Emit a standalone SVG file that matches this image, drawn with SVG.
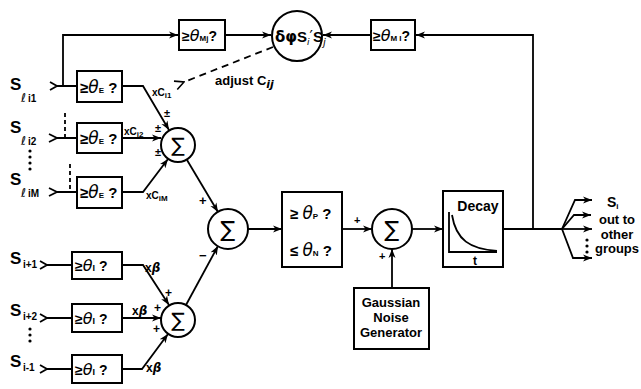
<svg xmlns="http://www.w3.org/2000/svg" width="641" height="389" viewBox="0 0 641 389">
<defs>
<marker id="arr" markerWidth="10" markerHeight="8" refX="9" refY="4" orient="auto" markerUnits="userSpaceOnUse">
<path d="M0,0.5 L9,4 L0,7.5 L2.5,4 z" fill="#000"/>
</marker>
<marker id="oarr" markerWidth="12" markerHeight="10" refX="1" refY="5" orient="auto" markerUnits="userSpaceOnUse">
<path d="M10,0.5 L1,5 L10,9.5" fill="none" stroke="#000" stroke-width="1.6"/>
</marker>
</defs>
<style>
.ln{fill:none;stroke:#000;stroke-width:1.8}
.bx{fill:#fff;stroke:#000;stroke-width:2}
.t{font-family:"Liberation Sans",Arial,sans-serif;font-weight:bold;fill:#000}
.g{font-family:"DejaVu Sans","Liberation Sans",sans-serif;fill:#000}
.th{font-family:"DejaVu Sans","Liberation Sans",sans-serif;font-style:italic;font-weight:normal}
.d{fill:#000}
</style>
<rect width="641" height="389" fill="#fff"/>

<g id="connectors">
<path class="ln" d="M50,82 L57,86 L50,90 M57,86 H77"/>
<path class="ln" d="M63,86 V35 H178" marker-end="url(#arr)"/>
<path class="ln" d="M122,86 H143 L169,130" marker-end="url(#arr)"/>
<path class="ln" d="M49,134 L57,138 L49,142 M57,138 H77"/>
<path class="ln" d="M122,138 H161" marker-end="url(#arr)"/>
<path class="ln" d="M49,188 L57,192 L49,196 M57,192 H77"/>
<path class="ln" d="M122,192 H143 L168,159" marker-end="url(#arr)"/>
<path class="ln" d="M65,113 V138" stroke-dasharray="4,3"/>
<path class="ln" d="M70,164 V192" stroke-dasharray="4,3"/>
<path class="ln" d="M40,261 L47,265 L40,269 M47,265 H72"/>
<path class="ln" d="M122,265 H143 L169,305" marker-end="url(#arr)"/>
<path class="ln" d="M40,314 L47,318 L40,322 M47,318 H72"/>
<path class="ln" d="M122,318 H161" marker-end="url(#arr)"/>
<path class="ln" d="M40,365 L47,369 L40,373 M47,369 H72"/>
<path class="ln" d="M122,369 H142 L168,334" marker-end="url(#arr)"/>
<path class="ln" d="M187,160 L218,212" marker-end="url(#arr)"/>
<path class="ln" d="M186,305 L218,246" marker-end="url(#arr)"/>
<path class="ln" d="M248,229 H282" marker-end="url(#arr)"/>
<path class="ln" d="M342,229 H372" marker-end="url(#arr)"/>
<path class="ln" d="M392,288 V249" marker-end="url(#arr)"/>
<path class="ln" d="M412,229 H443" marker-end="url(#arr)"/>
<path class="ln" d="M503,229 H562"/>
<path class="ln" d="M533,229 V35 H416" marker-end="url(#arr)"/>
<path class="ln" d="M371,35 H323" marker-end="url(#arr)"/>
<path class="ln" d="M225,35 H271" marker-end="url(#arr)"/>
<path class="ln" d="M273,47 L184,82" stroke-dasharray="7,5" marker-end="url(#oarr)"/>
<path class="ln" d="M562,229 L575,200 H592" marker-end="url(#arr)"/>
<path class="ln" d="M562,229 L574,215 H591" marker-end="url(#arr)"/>
<path class="ln" d="M562,229 H592" marker-end="url(#arr)"/>
<path class="ln" d="M562,229 L573,258 H592" marker-end="url(#arr)"/>
<circle class="d" cx="587" cy="240" r="1.6"/>
<circle class="d" cx="587" cy="246" r="1.6"/>
<circle class="d" cx="587" cy="252" r="1.6"/>
</g>

<g id="labels">
<text class="t" x="10" y="90" font-size="17">S</text>
<text class="g" x="21" y="102" font-size="12" font-style="italic">ℓ</text>
<text class="t" x="28" y="102" font-size="10">i1</text>
<text class="t" x="10" y="133" font-size="17">S</text>
<text class="g" x="21" y="145" font-size="12" font-style="italic">ℓ</text>
<text class="t" x="28" y="145" font-size="10">i2</text>
<circle class="d" cx="30" cy="151" r="1.6"/>
<circle class="d" cx="30" cy="157" r="1.6"/>
<circle class="d" cx="30" cy="163" r="1.6"/>
<circle class="d" cx="30" cy="169" r="1.6"/>
<text class="t" x="10" y="185" font-size="17">S</text>
<text class="g" x="21" y="197" font-size="12" font-style="italic">ℓ</text>
<text class="t" x="28" y="197" font-size="10">iM</text>
<text class="t" x="10" y="264" font-size="17">S</text>
<text class="t" x="23" y="268" font-size="10">i+1</text>
<text class="t" x="10" y="316" font-size="17">S</text>
<text class="t" x="23" y="320" font-size="10">i+2</text>
<circle class="d" cx="30" cy="329" r="1.6"/>
<circle class="d" cx="30" cy="335" r="1.6"/>
<circle class="d" cx="30" cy="341" r="1.6"/>
<text class="t" x="10" y="367" font-size="17">S</text>
<text class="t" x="23" y="371" font-size="10">i-1</text>

<text class="t" x="152" y="96" font-size="10">xC<tspan font-size="8" dy="2">i1</tspan></text>
<text class="t" x="124" y="135" font-size="10">xC<tspan font-size="8" dy="2">i2</tspan></text>
<text class="t" x="146" y="199" font-size="10">xC<tspan font-size="8" dy="2">iM</tspan></text>
<text class="t" x="164" y="117" font-size="11">±</text>
<text class="t" x="155" y="132" font-size="11">±</text>
<text class="t" x="155" y="156" font-size="11">±</text>
<text class="t" x="145" y="272" font-size="12">x<tspan class="g" font-weight="bold" font-style="italic">β</tspan></text>
<text class="t" x="132" y="315" font-size="12">x<tspan class="g" font-weight="bold" font-style="italic">β</tspan></text>
<text class="t" x="146" y="372" font-size="12">x<tspan class="g" font-weight="bold" font-style="italic">β</tspan></text>
<text class="t" x="165" y="297" font-size="12">+</text>
<text class="t" x="154" y="312" font-size="12">+</text>
<text class="t" x="153" y="333" font-size="12">+</text>
<text class="t" x="199" y="205" font-size="13">+</text>
<text class="t" x="199" y="260" font-size="13">−</text>
<text class="t" x="354" y="224" font-size="11">+</text>
<text class="t" x="379" y="260" font-size="11">+</text>
<text class="t" x="215" y="85" font-size="13">adjust C<tspan class="g" font-style="italic" font-size="11" dy="3">ij</tspan></text>
</g>

<g id="box-E1"><rect class="bx" x="77" y="71" width="45" height="31"/><text class="t" x="80" y="93" font-size="15">≥<tspan class="th" font-size="17">θ</tspan><tspan font-size="8">E</tspan> ?</text></g>
<g id="box-E2"><rect class="bx" x="77" y="123" width="45" height="30"/><text class="t" x="80" y="144" font-size="15">≥<tspan class="th" font-size="17">θ</tspan><tspan font-size="8">E</tspan> ?</text></g>
<g id="box-EM"><rect class="bx" x="77" y="177" width="45" height="31"/><text class="t" x="80" y="198" font-size="15">≥<tspan class="th" font-size="17">θ</tspan><tspan font-size="8">E</tspan> ?</text></g>
<g id="box-I1"><rect class="bx" x="72" y="252" width="50" height="27"/><text class="t" x="75" y="271" font-size="14">≥<tspan class="th" font-size="16">θ</tspan><tspan font-size="9">I</tspan> ?</text></g>
<g id="box-I2"><rect class="bx" x="72" y="304" width="50" height="28"/><text class="t" x="75" y="324" font-size="14">≥<tspan class="th" font-size="16">θ</tspan><tspan font-size="9">I</tspan> ?</text></g>
<g id="box-I3"><rect class="bx" x="72" y="355" width="50" height="28"/><text class="t" x="75" y="375" font-size="14">≥<tspan class="th" font-size="16">θ</tspan><tspan font-size="9">I</tspan> ?</text></g>
<g id="box-Mj"><rect class="bx" x="179" y="20" width="46" height="30"/><text class="t" x="182" y="41" font-size="14">≥<tspan class="th" font-size="16">θ</tspan><tspan font-size="8">Mj</tspan>?</text></g>
<g id="box-MI"><rect class="bx" x="371" y="20" width="44" height="30"/><text class="t" x="373" y="41" font-size="14">≥<tspan class="th" font-size="16">θ</tspan><tspan font-size="8">M I</tspan>?</text></g>
<g id="hebb"><circle class="bx" cx="297" cy="36" r="25"/><text class="g" x="275" y="42" font-size="15"><tspan font-weight="bold">δφ</tspan><tspan class="t">S</tspan><tspan font-size="9" dy="3" font-style="italic">i</tspan><tspan dy="-3">′</tspan><tspan class="t">S</tspan><tspan font-size="10" dy="4" font-style="italic">j</tspan></text></g>
<g id="sum1"><circle class="bx" cx="178" cy="145" r="17"/><text class="g" x="178" y="152" font-size="20" text-anchor="middle">∑</text></g>
<g id="sum2"><circle class="bx" cx="178" cy="320" r="17"/><text class="g" x="178" y="327" font-size="20" text-anchor="middle">∑</text></g>
<g id="sum3"><circle class="bx" cx="228" cy="229" r="20"/><text class="g" x="228" y="237" font-size="22" text-anchor="middle">∑</text></g>
<g id="sum4"><circle class="bx" cx="392" cy="229" r="20"/><text class="g" x="392" y="237" font-size="22" text-anchor="middle">∑</text></g>
<g id="box-PN"><rect class="bx" x="282" y="192" width="60" height="75"/>
<text class="t" x="290" y="219" font-size="15">≥ <tspan class="th" font-size="17">θ</tspan><tspan font-size="8">P</tspan> ?</text>
<text class="t" x="290" y="256" font-size="15">≤ <tspan class="th" font-size="17">θ</tspan><tspan font-size="8">N</tspan> ?</text></g>
<g id="noise"><rect class="bx" x="354" y="288" width="75" height="61"/>
<text class="t" x="391" y="307" font-size="13" text-anchor="middle">Gaussian</text>
<text class="t" x="391" y="322" font-size="13" text-anchor="middle">Noise</text>
<text class="t" x="391" y="337" font-size="13" text-anchor="middle">Generator</text></g>
<g id="decay"><rect class="bx" x="443" y="191" width="60" height="76"/>
<text class="t" x="478" y="211" font-size="14" text-anchor="middle">Decay</text>
<path class="ln" d="M449,212 V252 H497"/>
<path class="ln" d="M452,215 C456,240 470,249 497,251"/>
<text class="t" x="475" y="265" font-size="12" text-anchor="middle">t</text></g>
<g id="output"><text class="t" x="607" y="207" font-size="14">S<tspan font-size="8" dy="2">i</tspan></text>
<text class="t" x="617" y="224" font-size="13" text-anchor="middle">out to</text>
<text class="t" x="617" y="239" font-size="13" text-anchor="middle">other</text>
<text class="t" x="617" y="253" font-size="13" text-anchor="middle">groups</text></g>
</svg>
